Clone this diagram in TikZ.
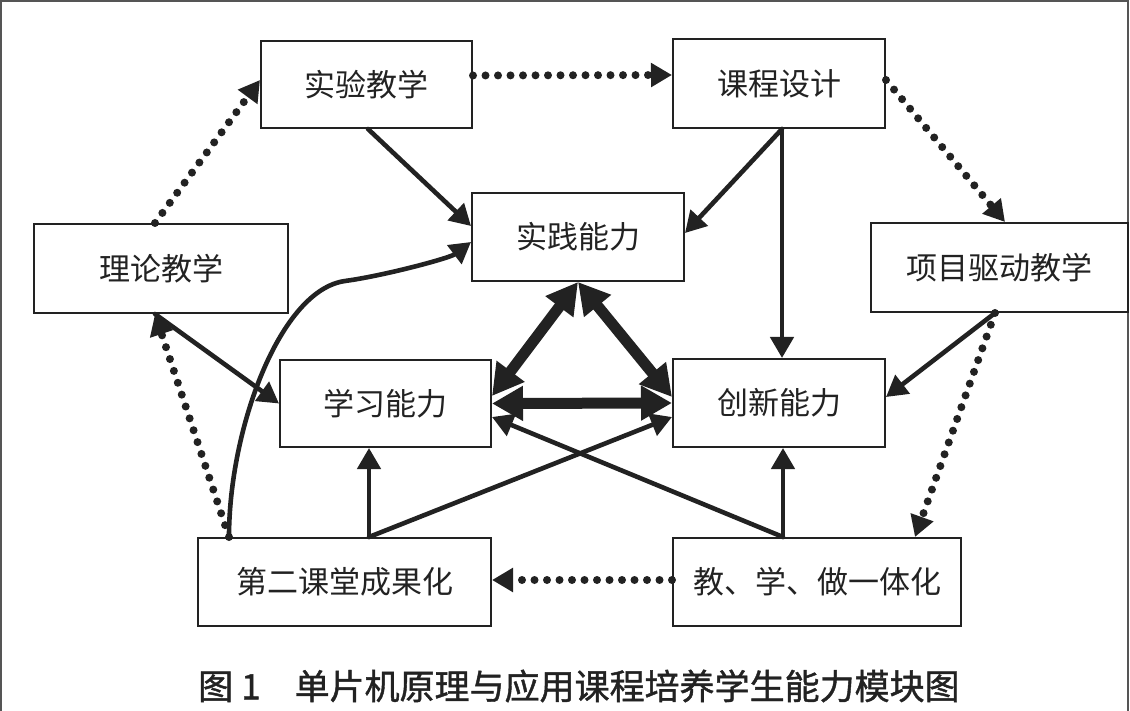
\documentclass[tikz,border=0pt]{standalone}
\usepackage{fontspec}
\usetikzlibrary{arrows.meta,calc}
\newfontfamily\hei{Noto Sans CJK SC}
\newfontfamily\heib[FakeBold=1.2]{Noto Sans CJK SC}
\definecolor{lc}{HTML}{222222}
\definecolor{fc}{HTML}{555555}
\tikzset{
  box/.style={draw=lc, line width=2pt, inner sep=0pt, text=lc,
    font=\hei\fontsize{31}{31}\selectfont},
  dotarrow/.style={draw=lc, line width=8pt, line cap=round,
    dash pattern=on 0pt off 12.5pt, -{Triangle[length=21pt,width=23pt]}},
  solidarrow/.style={draw=lc, line width=4.6pt, line cap=round,
    -{Triangle[length=21pt,width=23pt]}},
  thickarrow/.style={draw=lc, line width=11pt,
    {Triangle[length=31pt,width=33pt]}-{Triangle[length=31pt,width=33pt]}},
}
\begin{document}
\begin{tikzpicture}[x=1pt,y=-1pt]
\useasboundingbox (0,0) rectangle (1130,711);
\draw[fc, line width=2.5pt] (1,711) -- (1,1) -- (1128,1) -- (1128,711);

\node[box, minimum width=211pt, minimum height=87pt] (sy) at (366.5,84.5) {实验教学};
\node[box, minimum width=212pt, minimum height=89pt] (kc) at (779,83.5) {课程设计};
\node[box, minimum width=254pt, minimum height=89pt] (ll) at (161,268.5) {理论教学};
\node[box, minimum width=212pt, minimum height=88pt] (sj) at (578,237) {实践能力};
\node[box, minimum width=257pt, minimum height=89pt] (xm) at (999.5,267.5) {项目驱动教学};
\node[box, minimum width=211pt, minimum height=87pt] (xx) at (385.5,403.5) {学习能力};
\node[box, minimum width=212pt, minimum height=88pt] (cx) at (779,403) {创新能力};
\node[box, minimum width=293pt, minimum height=88pt] (de) at (344.5,582) {第二课堂成果化};
\node[box, minimum width=288pt, minimum height=88pt] (jx) at (817,582) {教、学、做一体化};

% dotted arrows
\draw[dotarrow] ([xshift=-6pt]ll.north) -- ([yshift=4.5pt]sy.west);
\draw[dotarrow] ([yshift=9pt]sy.east) -- ([yshift=8.5pt]kc.west);
\draw[dotarrow] ([yshift=3.5pt]kc.east) -- ([xshift=5.5pt]xm.north);
\draw[dotarrow] ([xshift=-4.5pt]xm.south) -- ([xshift=98pt]jx.north);
\draw[dotarrow] ([yshift=2pt]jx.west) -- ([yshift=2pt]de.east);
\draw[dotarrow] ([xshift=-115.5pt]de.north) -- ([xshift=-6pt]ll.south);

% solid arrows
\draw[solidarrow] ([xshift=1.5pt]sy.south) -- ([yshift=11pt]sj.west);
\draw[solidarrow] ([xshift=3pt]kc.south) -- ([yshift=4pt]sj.east);
\draw[solidarrow] ([xshift=3pt]kc.south) -- ([xshift=3pt]cx.north);
\draw[solidarrow] ([xshift=-4.5pt]xm.south) -- ([yshift=6pt]cx.east);
\draw[solidarrow] ([xshift=-6pt]ll.south) -- (xx.west);
\draw[solidarrow] ([xshift=-115.5pt]de.north) .. controls +(0,-108) and (280,290) .. (345,281)
   .. controls (385,275.5) and (450,258) .. ([yshift=-5pt]sj.west);
\draw[solidarrow] ([xshift=24.5pt]de.north) -- ([xshift=-16.5pt]xx.south);
\draw[solidarrow] ([xshift=24.5pt]de.north) -- ([yshift=-14pt]cx.west);
\draw[solidarrow] ([xshift=-34pt]jx.north) -- ([xshift=4pt]cx.south);
\draw[solidarrow] ([xshift=-34pt]jx.north) -- ([yshift=-13.5pt]xx.east);

% thick double arrows
\draw[thickarrow] ([yshift=7.5pt]xx.east) -- (sj.south);
\draw[thickarrow] (sj.south) -- ([yshift=6pt]cx.west);
\draw[thickarrow] (xx.east) -- (cx.west);

\node[anchor=west, inner sep=0pt, text=lc, font=\heib\fontsize{35}{35}\selectfont] (cap) at (198,686)
  {图\hspace{8pt}1\hspace{34pt}单片机原理与应用课程培养学生能力模块图};
\end{tikzpicture}
\end{document}
